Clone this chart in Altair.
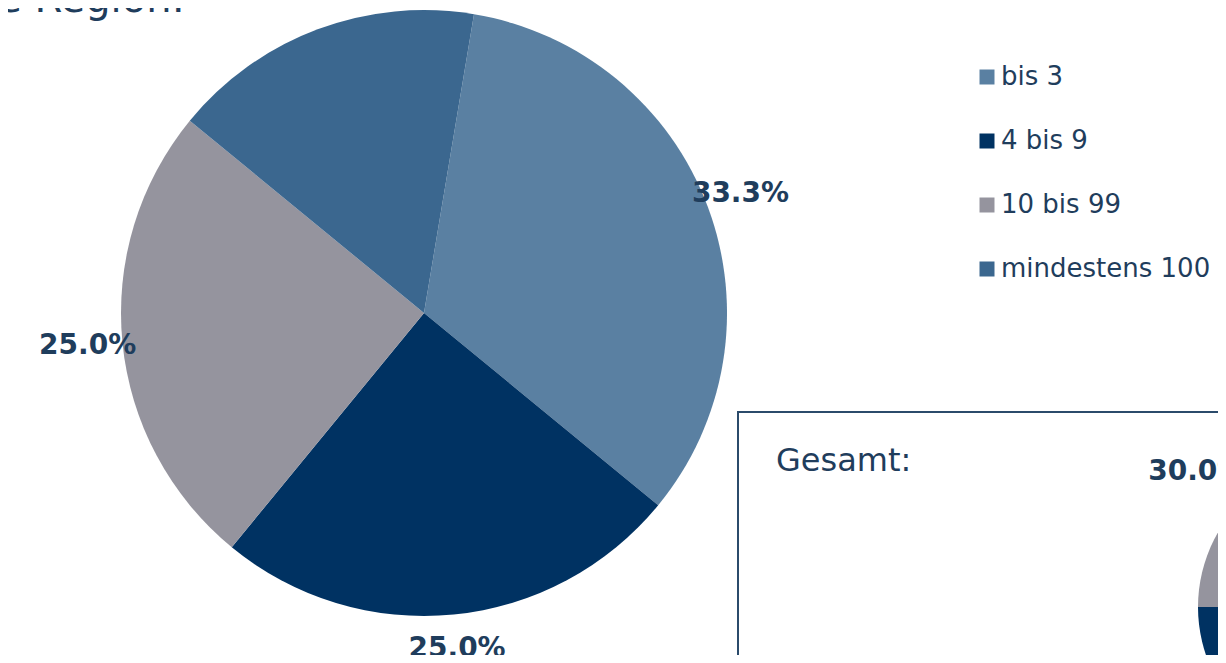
import math
import altair as alt
import pandas as pd

# ---- data ----
categories = ["bis 3", "4 bis 9", "10 bis 99", "mindestens 100"]
colors = ["#5a80a2", "#003262", "#95949e", "#3b678f"]
region_values = [33.3, 25.0, 25.0, 16.7]
gesamt_values = [25.0, 30.0, 30.0, 15.0]
title_text = ["Ausgewählte Region:"]
box_title = ["Gesamt:"]

# ---- style / layout ----
TEXT = "#1f3d5c"
FONT = "DejaVu Sans"
W, H = 1210, 647

region = pd.DataFrame({"cat": categories, "value": region_values, "idx": list(range(len(categories)))})
region["label"] = [f"{v:.1f}%" for v in region_values]
gesamt = pd.DataFrame({"cat": categories, "value": gesamt_values, "idx": list(range(len(categories)))})
gesamt["label"] = [f"{v:.1f}%" for v in gesamt_values]

color = alt.Color(
    "cat:N",
    scale=alt.Scale(domain=categories, range=colors),
    legend=alt.Legend(
        title=None, orient="none", legendX=966, legendY=56,
        symbolType="square", symbolSize=225, symbolStrokeWidth=0, symbolOpacity=1,
        labelFontSize=26, labelFont=FONT, labelColor=TEXT, labelOffset=1,
        labelLimit=0, rowPadding=38, padding=0,
    ),
)

start_main = math.radians(9.5)
start_small = math.radians(72)
theta_main = alt.Theta("value:Q", stack=True,
                       scale=alt.Scale(range=[start_main, start_main + 2 * math.pi]))
theta_small = alt.Theta("value:Q", stack=True,
                        scale=alt.Scale(range=[start_small, start_small + 2 * math.pi]))

main_base = alt.Chart(region).encode(
    theta=theta_main, order=alt.Order("idx:Q"), x=alt.value(416), y=alt.value(305)
)
main_arc = main_base.mark_arc(outerRadius=303).encode(color=color)
main_lbl = main_base.mark_text(
    radius=338, font=FONT, fontSize=28, fontWeight="bold", color=TEXT
).encode(text="label:N")

small_base = alt.Chart(gesamt).encode(
    theta=theta_small, order=alt.Order("idx:Q"), x=alt.value(1339), y=alt.value(599)
)
small_arc = small_base.mark_arc(outerRadius=149).encode(color=color)
small_lbl = small_base.mark_text(
    radius=202, thetaOffset=-0.21, font=FONT, fontSize=28, fontWeight="bold", color=TEXT
).encode(text="label:N")

one = pd.DataFrame({"t": title_text})
title = alt.Chart(one).mark_text(
    align="right", baseline="alphabetic", font=FONT, fontSize=40, color=TEXT
).encode(x=alt.value(177), y=alt.value(4), text="t:N")

box_df = pd.DataFrame({"t": box_title})
box = alt.Chart(box_df).mark_rect(
    fill="white", stroke="#2b4b6b", strokeWidth=2
).encode(x=alt.value(730), x2=alt.value(W + 20), y=alt.value(404), y2=alt.value(H + 20))
box_txt = alt.Chart(box_df).mark_text(
    align="left", baseline="alphabetic", font=FONT, fontSize=32, color=TEXT
).encode(x=alt.value(768), y=alt.value(463), text="t:N")

chart = (
    alt.layer(box, main_arc, main_lbl, title, box_txt, small_arc, small_lbl)
    .resolve_scale(theta="independent")
    .properties(width=W, height=H, autosize=alt.AutoSizeParams(type="none"), padding=0)
    .configure_view(stroke=None)
)

chart.save("out.html", embed_options={"renderer": "svg", "actions": False})
